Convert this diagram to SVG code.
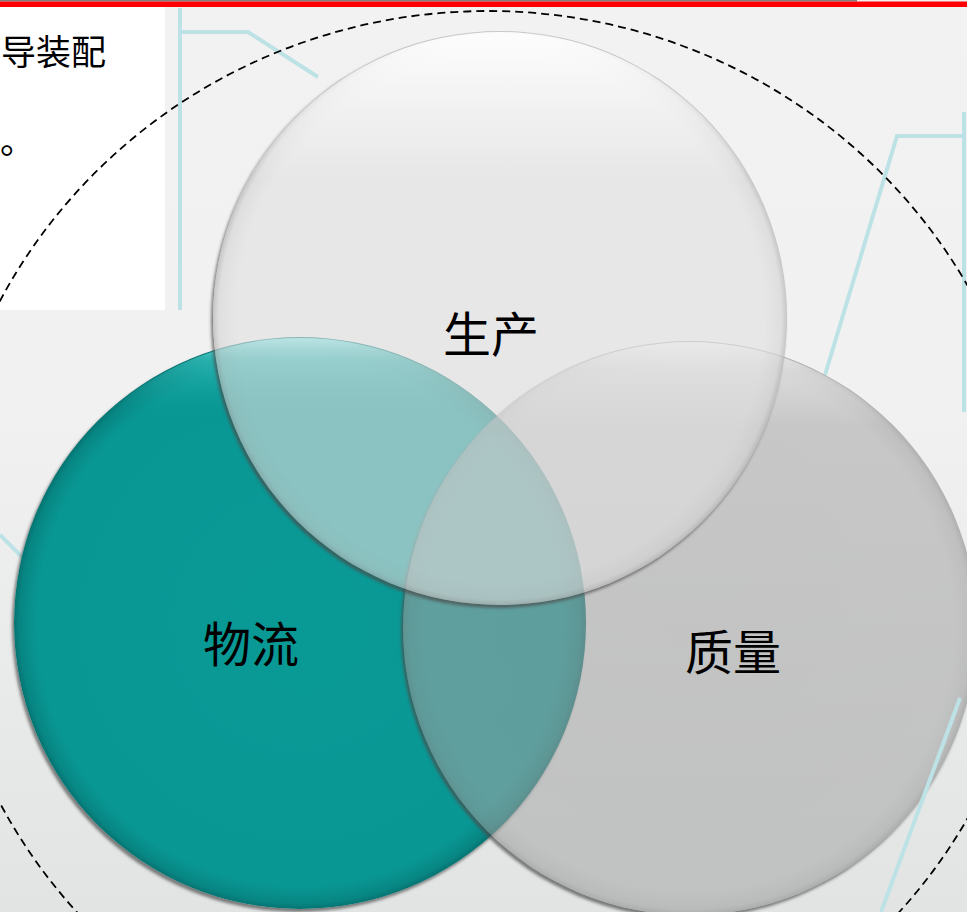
<svg xmlns="http://www.w3.org/2000/svg" width="967" height="912" viewBox="0 0 967 912">
<defs>
<style>
.deco{fill:none;stroke:#bde2e5;stroke-width:4;stroke-linejoin:miter}
.lbl{font-family:"Noto Sans CJK SC","Noto Sans",sans-serif;font-size:48px;fill:#000;text-anchor:middle}
.side{font-family:"Noto Sans CJK SC","Noto Sans",sans-serif;font-size:35px;fill:#000}
.sh{fill:#000;filter:url(#outShadow)}
</style>
<linearGradient id="bg" x1="0" y1="0" x2="0" y2="1">
<stop offset="0" stop-color="#f2f2f2"/>
<stop offset="0.45" stop-color="#f1f1f1"/>
<stop offset="1" stop-color="#e2e4e4"/>
</linearGradient>
<radialGradient id="tealFill" cx="0.5" cy="0.5" r="0.5">
<stop offset="0" stop-color="#0a9a96"/>
<stop offset="0.92" stop-color="#099794"/>
<stop offset="0.98" stop-color="#078683"/>
<stop offset="1" stop-color="#067371"/>
</radialGradient>
<linearGradient id="tealHi" x1="0" y1="0" x2="0" y2="1">
<stop offset="0" stop-color="#8af0f0" stop-opacity="0.95"/>
<stop offset="0.04" stop-color="#3cc8c6" stop-opacity="0.6"/>
<stop offset="0.14" stop-color="#0a9a96" stop-opacity="0"/>
<stop offset="1" stop-color="#0a9a96" stop-opacity="0"/>
</linearGradient>
<radialGradient id="grayFill" cx="0.5" cy="0.5" r="0.5">
<stop offset="0" stop-color="#a3a3a3" stop-opacity="0.55"/>
<stop offset="0.92" stop-color="#a5a5a5" stop-opacity="0.55"/>
<stop offset="0.98" stop-color="#9c9c9c" stop-opacity="0.58"/>
<stop offset="1" stop-color="#8e8e8e" stop-opacity="0.65"/>
</radialGradient>
<linearGradient id="grayHi" x1="0" y1="0" x2="0" y2="1">
<stop offset="0" stop-color="#ffffff" stop-opacity="0.9"/>
<stop offset="0.05" stop-color="#ffffff" stop-opacity="0.35"/>
<stop offset="0.15" stop-color="#ffffff" stop-opacity="0"/>
<stop offset="1" stop-color="#ffffff" stop-opacity="0"/>
</linearGradient>
<radialGradient id="prodFill" cx="0.5" cy="0.5" r="0.5">
<stop offset="0" stop-color="#e0e0e0" stop-opacity="0.6"/>
<stop offset="0.92" stop-color="#e0e0e0" stop-opacity="0.6"/>
<stop offset="0.98" stop-color="#d4d4d4" stop-opacity="0.64"/>
<stop offset="1" stop-color="#b4b4b4" stop-opacity="0.72"/>
</radialGradient>
<linearGradient id="prodHi" x1="0" y1="0" x2="0" y2="1">
<stop offset="0" stop-color="#ffffff" stop-opacity="0.95"/>
<stop offset="0.1" stop-color="#ffffff" stop-opacity="0.55"/>
<stop offset="0.26" stop-color="#ffffff" stop-opacity="0"/>
<stop offset="1" stop-color="#ffffff" stop-opacity="0"/>
</linearGradient>
<filter id="outShadow" x="-10%" y="-10%" width="120%" height="120%">
<feGaussianBlur in="SourceAlpha" stdDeviation="1.8" result="b"/>
<feOffset in="b" dx="-2" dy="3" result="o"/>
<feComposite in="o" in2="SourceAlpha" operator="out" result="s"/>
<feFlood flood-color="#4a4a4a" flood-opacity="0.7"/>
<feComposite in2="s" operator="in"/>
</filter>
</defs>

<rect x="0" y="0" width="967" height="912" fill="url(#bg)"/>
<rect x="0" y="0" width="857" height="1.5" fill="#7f7f7f"/>
<rect x="0" y="1.5" width="967" height="5.5" fill="#ff0000"/>
<rect x="0" y="7" width="165" height="303" fill="#ffffff"/>

<g id="lines">
<polyline class="deco" points="180,8 180,310"/>
<polyline class="deco" points="180,32 248,32 318,77"/>
<polyline class="deco" points="964,112 964,412"/>
<polyline class="deco" points="964,136 897,136 825,375"/>
<polyline class="deco" points="0,535 24,559"/>
</g>

<ellipse cx="488" cy="552" rx="551" ry="541" fill="none" stroke="#000" stroke-width="1.8" stroke-dasharray="8 5"/>

<g id="node-logistics">
<circle class="sh" cx="300" cy="623" r="286"/>
<circle cx="300" cy="623" r="286" fill="url(#tealFill)"/>
<circle cx="300" cy="623" r="285" fill="url(#tealHi)"/>
</g>

<g id="node-quality">
<circle class="sh" cx="690" cy="628" r="287"/>
<circle cx="690" cy="628" r="287" fill="url(#grayFill)"/>
<circle cx="690" cy="628" r="286" fill="url(#grayHi)"/>
</g>

<g id="node-production">
<circle class="sh" cx="500" cy="318" r="287"/>
<circle cx="500" cy="318" r="287" fill="url(#prodFill)"/>
<circle cx="500" cy="318" r="286" fill="url(#prodHi)"/>
</g>

<polyline class="deco" points="960,698 881,912"/>

<g id="labels">
<text class="lbl" x="491" y="352">生产</text>
<text class="lbl" x="251" y="662">物流</text>
<text class="lbl" x="733" y="670">质量</text>
<text class="side" x="1" y="65">导装配</text>
<text class="side" x="0" y="154">。</text>
</g>
</svg>
